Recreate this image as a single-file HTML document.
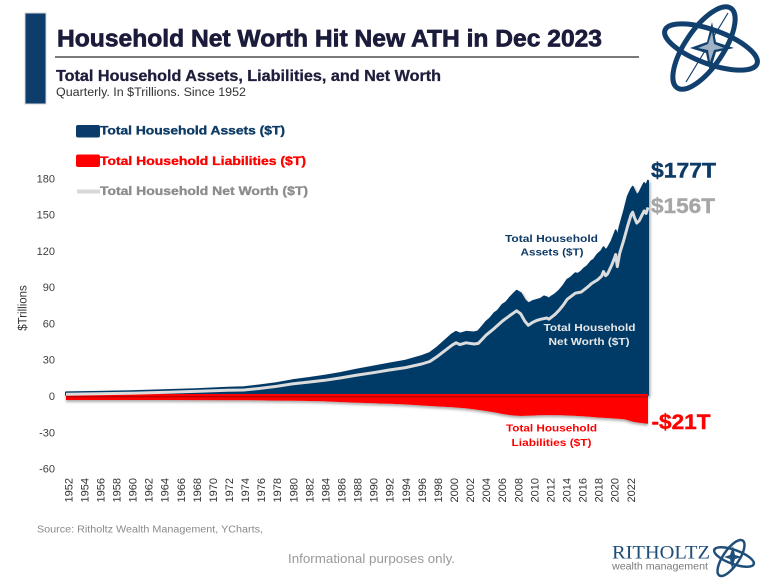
<!DOCTYPE html>
<html>
<head>
<meta charset="utf-8">
<style>
  html,body{margin:0;padding:0;background:#fff;}
  svg{display:block;font-family:"Liberation Sans",Arial,sans-serif;}
</style>
</head>
<body>
<svg width="768" height="582" viewBox="0 0 768 582" xmlns="http://www.w3.org/2000/svg">
  <defs>
    <filter id="sh" x="-5%" y="-5%" width="110%" height="120%">
      <feDropShadow dx="1.5" dy="1.5" stdDeviation="1.2" flood-color="#8a8a8a" flood-opacity="0.7"/>
    </filter>
    <filter id="shr" x="-5%" y="-20%" width="110%" height="160%">
      <feDropShadow dx="0" dy="2" stdDeviation="1.2" flood-color="#8a8a8a" flood-opacity="0.7"/>
    </filter>
  </defs>

  <!-- header -->
  <rect x="25" y="13" width="21" height="91" fill="#0d3d6b" stroke="#d4d4d4" stroke-width="1"/>
  <text x="57" y="46.5" font-size="24.5" font-weight="bold" fill="#1b1b3b" stroke="#1b1b3b" stroke-width="0.7" textLength="545" lengthAdjust="spacingAndGlyphs">Household Net Worth Hit New ATH in Dec 2023</text>
  <line x1="55" y1="57" x2="639" y2="57" stroke="#7a7a7a" stroke-width="2"/>
  <text x="56" y="81" font-size="15.5" font-weight="bold" fill="#1e1e3c" stroke="#1e1e3c" stroke-width="0.3" textLength="385" lengthAdjust="spacingAndGlyphs">Total Household Assets, Liabilities, and Net Worth</text>
  <text x="56" y="96" font-size="11.5" fill="#333" textLength="190" lengthAdjust="spacingAndGlyphs">Quarterly. In $Trillions. Since 1952</text>

  <!-- top logo -->
  <g fill="none" stroke="#12406e">
    <ellipse cx="704" cy="48" rx="48" ry="19" transform="rotate(-56 704 48)" stroke-width="5"/>
    <ellipse cx="711" cy="47" rx="49" ry="17" transform="rotate(20 711 47)" stroke-width="5"/>
    <line x1="686" y1="82" x2="728" y2="13" stroke-width="1.2"/>
  </g>
  <polygon points="712,22 716,42 734,48 716,52 710,72 706,53 690,48 707,42" fill="#12406e"/>
  <polygon points="712,32 714,44 724,48 714,50 710,62 708,50 698,48 708,44" fill="#fff" opacity="0.6"/>

  <!-- legend -->
  <rect x="76" y="125" width="24" height="12.5" rx="2" fill="#0b3c69"/>
  <text x="100" y="134.3" font-size="12" font-weight="bold" fill="#0e3b66" stroke="#0e3b66" stroke-width="0.35" textLength="185" lengthAdjust="spacingAndGlyphs">Total Household Assets ($T)</text>
  <rect x="76" y="154.5" width="24" height="12.5" rx="2" fill="#ff0000"/>
  <text x="100" y="165" font-size="12" font-weight="bold" fill="#ff0000" stroke="#ff0000" stroke-width="0.35" textLength="206" lengthAdjust="spacingAndGlyphs">Total Household Liabilities ($T)</text>
  <line x1="77" y1="191.5" x2="100" y2="191.5" stroke="#d9d9d9" stroke-width="4"/>
  <text x="100" y="195" font-size="12" font-weight="bold" fill="#8c8c8c" stroke="#8c8c8c" stroke-width="0.35" textLength="208" lengthAdjust="spacingAndGlyphs">Total Household Net Worth ($T)</text>

  <!-- y axis -->
  <g font-size="11" fill="#404040" text-anchor="end">
    <text x="55" y="182.4">180</text>
    <text x="55" y="218.7">150</text>
    <text x="55" y="254.9">120</text>
    <text x="55" y="291.2">90</text>
    <text x="55" y="327.5">60</text>
    <text x="55" y="363.7">30</text>
    <text x="55" y="400">0</text>
    <text x="55" y="436.3">-30</text>
    <text x="55" y="472.5">-60</text>
  </g>
  <text transform="translate(26.5,308) rotate(-90)" font-size="11.5" fill="#333" text-anchor="middle">$Trillions</text>

  <!-- assets area -->
  <path filter="url(#sh)" fill="#063a68" stroke="#063a68" stroke-width="2" stroke-linejoin="round" d="M66,392.4 L98.3,391.9 L130.7,391.3 L163,390.3 L195.3,389.2 L227.7,387.8 L243.8,387.2 L260,385.4 L276.2,383.2 L292.3,380.3 L308.5,378.1 L324.7,375.7 L340.8,373 L357,369.6 L373.2,366.6 L389.3,363.6 L405.5,360.7 L421.7,356.1 L429.8,353.1 L437.8,347 L452,334.3 L456,331.9 L460,333.7 L466,331.9 L474.2,332.5 L478.2,331.3 L482.3,326.5 L486.3,321.6 L490,318.5 L494.4,313.2 L498,310.5 L502.5,304.7 L506,302.5 L510.6,296.9 L516.6,290.8 L520.7,293.2 L524.7,299.9 L528.3,303.5 L532.8,301.1 L536.8,299.9 L540.9,298.7 L544,296.5 L546.9,297.5 L548.9,298.7 L552,296.2 L555,294.4 L559.1,290.8 L563.1,286 L567.2,279.9 L571,277.5 L575.3,273.3 L578,273.8 L581.3,271.5 L584,268.5 L587.4,266 L591.4,261.2 L594,259.5 L597.5,254.5 L601.5,250.9 L603.5,247.3 L605.6,250.3 L607.6,248.5 L611.6,241.2 L614.9,232.8 L615.7,230.4 L617.3,237.6 L619.7,226.7 L623.8,212.2 L627.8,196.5 L631.1,189.3 L632.7,186.8 L634.3,190.5 L636.8,195.3 L639.2,192.9 L641.6,188.1 L644.1,183.2 L646.1,185.6 L648,180.8 L648,395 L66,395 Z"/>

  <!-- liabilities area -->
  <path filter="url(#shr)" fill="#ff0000" d="M66,394 L648,394 L648,423.9 L639.2,422.8 L632.7,421.7 L627.8,420.3 L623.8,419.3 L615.7,418.6 L607.6,418.1 L597.5,417.5 L587.4,416.6 L575.3,415.9 L567.2,415.5 L559.1,415.2 L546.9,415.1 L536.8,415.4 L528.3,415.8 L520.7,416 L516.6,415.8 L510.6,415.2 L502.5,414 L494.4,412.4 L486.3,411.1 L474.2,409.4 L466,408.4 L452,407.2 L437.8,406.5 L421.7,405.5 L405.5,404.5 L389.3,403.8 L373.2,403.3 L357,402.7 L340.8,402.1 L324.7,401.4 L308.5,401 L292.3,400.8 L276.2,400.6 L260,400.4 L243.8,400.3 L227.7,400.2 L195.3,400.1 L163,400 L130.7,400 L98.3,400 L66,400 Z"/>
  <line x1="66" y1="396.7" x2="648" y2="396.7" stroke="#c00000" stroke-width="1.6"/>

  <!-- net worth line -->
  <path fill="none" stroke="#dcdcdc" stroke-width="3" stroke-linejoin="round" d="M66,394.3 L98.3,393.8 L130.7,393.2 L163,392.4 L195.3,391.4 L227.7,390.3 L243.8,390 L260,388.4 L276.2,386.4 L292.3,383.9 L308.5,382.1 L324.7,380.3 L340.8,377.9 L357,375.1 L373.2,372.7 L389.3,370 L405.5,367.6 L421.7,364 L429.8,361.5 L437.8,356.1 L452,345.2 L456,342.8 L460,344.6 L466,342.8 L474.2,344 L478.2,343.4 L482.3,339.2 L486.3,334.9 L494.4,328.3 L502.5,321 L510.6,315 L516.6,310.8 L520.7,313.8 L524.7,321 L528.3,325.3 L532.8,322.3 L536.8,320.4 L540.9,319.2 L546.9,318 L548.9,319.2 L555,314.4 L559.1,310.2 L563.1,305.3 L567.2,299.3 L575.3,293.2 L581.3,292 L587.4,287.2 L591.4,283.6 L597.5,279.9 L601.5,276.3 L603.5,271.5 L605.6,275.7 L607.6,273.9 L611.6,265.4 L614.9,256.9 L615.7,254.5 L617.3,266.6 L619.7,253.3 L623.8,240 L627.8,225.5 L631.1,214.7 L632.7,212.2 L634.3,217.1 L636.8,223.1 L639.2,220.7 L641.6,215.9 L644.1,211 L646.1,213.4 L648,207.4"/>

  <!-- in-chart annotations -->
  <g font-size="10.5" font-weight="bold" text-anchor="middle">
    <text x="551.5" y="242" fill="#0e3b66" textLength="93" lengthAdjust="spacingAndGlyphs">Total Household</text>
    <text x="552" y="255.5" fill="#0e3b66" textLength="63" lengthAdjust="spacingAndGlyphs">Assets ($T)</text>
    <text x="589.5" y="331" fill="#e6e6e6" textLength="92" lengthAdjust="spacingAndGlyphs">Total Household</text>
    <text x="589" y="345" fill="#e6e6e6" textLength="81" lengthAdjust="spacingAndGlyphs">Net Worth ($T)</text>
    <text x="551.5" y="431.7" fill="#ff0000" textLength="91" lengthAdjust="spacingAndGlyphs">Total Household</text>
    <text x="551.5" y="446" fill="#ff0000" textLength="80" lengthAdjust="spacingAndGlyphs">Liabilities ($T)</text>
  </g>

  <!-- end labels -->
  <g font-size="21" font-weight="bold">
    <text x="651" y="177.5" fill="#0e3b66" stroke="#0e3b66" stroke-width="0.4" textLength="65" lengthAdjust="spacingAndGlyphs">$177T</text>
    <text x="651" y="213" fill="#a6a6a6" stroke="#a6a6a6" stroke-width="0.4" textLength="64" lengthAdjust="spacingAndGlyphs">$156T</text>
    <text x="651.5" y="429" fill="#ff0000" stroke="#ff0000" stroke-width="0.4" textLength="59" lengthAdjust="spacingAndGlyphs">-$21T</text>
  </g>

  <!-- x axis labels -->
  <g font-size="11" fill="#333" text-anchor="end">
    <text transform="translate(72.3,478) rotate(-90)">1952</text>
    <text transform="translate(88.4,478) rotate(-90)">1954</text>
    <text transform="translate(104.4,478) rotate(-90)">1956</text>
    <text transform="translate(120.5,478) rotate(-90)">1958</text>
    <text transform="translate(136.6,478) rotate(-90)">1960</text>
    <text transform="translate(152.7,478) rotate(-90)">1962</text>
    <text transform="translate(168.7,478) rotate(-90)">1964</text>
    <text transform="translate(184.8,478) rotate(-90)">1966</text>
    <text transform="translate(200.9,478) rotate(-90)">1968</text>
    <text transform="translate(216.9,478) rotate(-90)">1970</text>
    <text transform="translate(233.0,478) rotate(-90)">1972</text>
    <text transform="translate(249.1,478) rotate(-90)">1974</text>
    <text transform="translate(265.1,478) rotate(-90)">1976</text>
    <text transform="translate(281.2,478) rotate(-90)">1978</text>
    <text transform="translate(297.3,478) rotate(-90)">1980</text>
    <text transform="translate(313.4,478) rotate(-90)">1982</text>
    <text transform="translate(329.4,478) rotate(-90)">1984</text>
    <text transform="translate(345.5,478) rotate(-90)">1986</text>
    <text transform="translate(361.6,478) rotate(-90)">1988</text>
    <text transform="translate(377.6,478) rotate(-90)">1990</text>
    <text transform="translate(393.7,478) rotate(-90)">1992</text>
    <text transform="translate(409.8,478) rotate(-90)">1994</text>
    <text transform="translate(425.8,478) rotate(-90)">1996</text>
    <text transform="translate(441.9,478) rotate(-90)">1998</text>
    <text transform="translate(458.0,478) rotate(-90)">2000</text>
    <text transform="translate(474.1,478) rotate(-90)">2002</text>
    <text transform="translate(490.1,478) rotate(-90)">2004</text>
    <text transform="translate(506.2,478) rotate(-90)">2006</text>
    <text transform="translate(522.3,478) rotate(-90)">2008</text>
    <text transform="translate(538.3,478) rotate(-90)">2010</text>
    <text transform="translate(554.4,478) rotate(-90)">2012</text>
    <text transform="translate(570.5,478) rotate(-90)">2014</text>
    <text transform="translate(586.5,478) rotate(-90)">2016</text>
    <text transform="translate(602.6,478) rotate(-90)">2018</text>
    <text transform="translate(618.7,478) rotate(-90)">2020</text>
    <text transform="translate(634.8,478) rotate(-90)">2022</text>
  </g>

  <!-- footer -->
  <text x="37" y="532.5" font-size="10" fill="#8a8a8a" textLength="226" lengthAdjust="spacingAndGlyphs">Source: Ritholtz Wealth Management, YCharts,</text>
  <text x="288" y="563" font-size="12.5" fill="#999" textLength="167" lengthAdjust="spacingAndGlyphs">Informational purposes only.</text>

  <!-- bottom logo -->
  <text x="612" y="558.5" font-family="'Liberation Serif',serif" font-size="19" fill="#1f4e79" textLength="98" lengthAdjust="spacingAndGlyphs">RITHOLTZ</text>
  <text x="612" y="569.5" font-size="10.5" fill="#7a7a7a" textLength="96" lengthAdjust="spacingAndGlyphs">wealth management</text>
  <g fill="none" stroke="#1f4e79">
    <ellipse cx="731" cy="558" rx="21" ry="8" transform="rotate(-56 731 558)" stroke-width="2.5"/>
    <ellipse cx="734" cy="557" rx="21" ry="7" transform="rotate(20 734 557)" stroke-width="2.5"/>
  </g>
  <polygon points="733,546 735,555 742,557 735,559 732,569 730,559 724,557 730,555" fill="#1f4e79"/>
</svg>
</body>
</html>
